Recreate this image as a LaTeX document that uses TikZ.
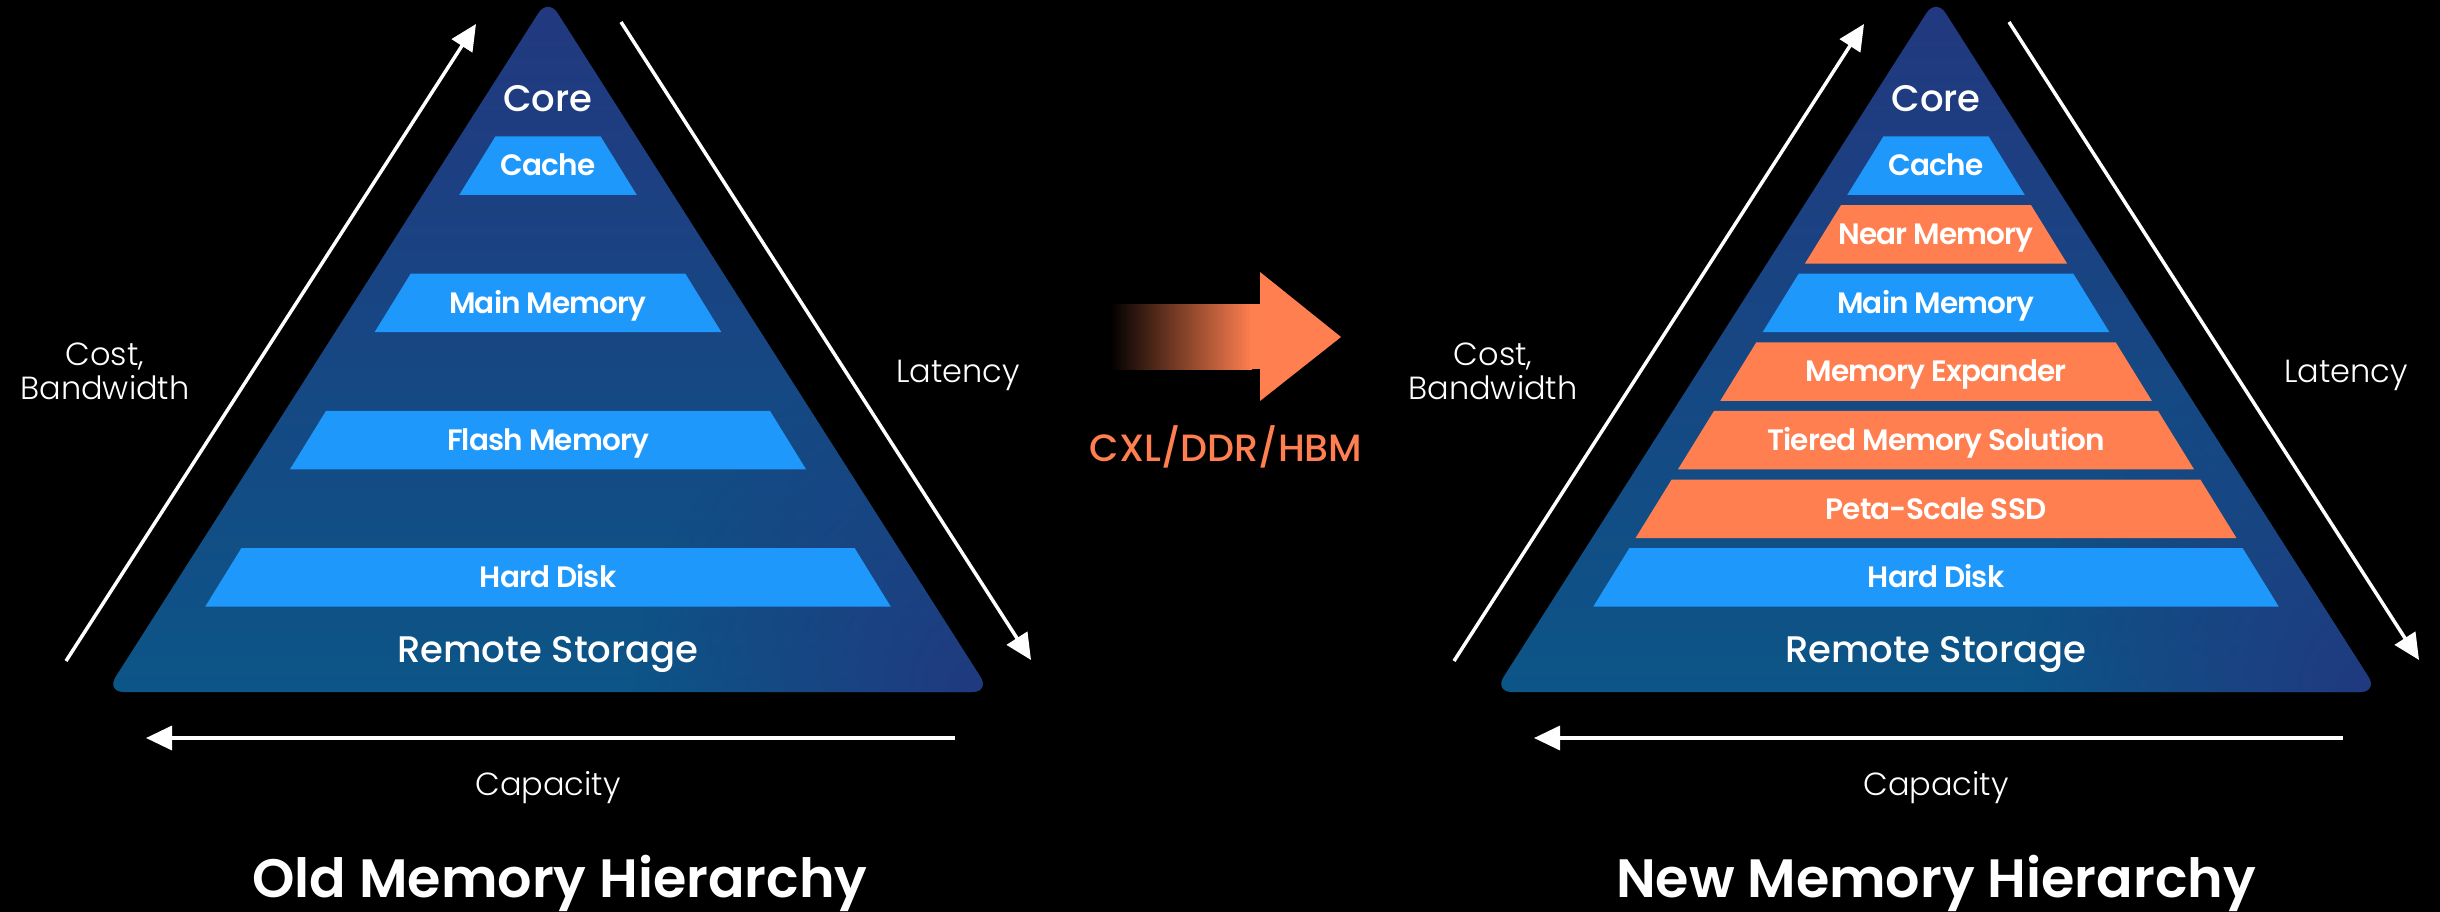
\documentclass[tikz,border=0pt]{standalone}
\usepackage{fontspec}
\setmainfont{Poppins}
\newfontfamily\popL{Poppins Light}
\newfontfamily\popM{Poppins Medium}
\newfontfamily\popSB{Poppins SemiBold}[LetterSpace=-3]
\newfontfamily\popT{Poppins SemiBold}
\usetikzlibrary{arrows.meta,fadings}
\definecolor{navy}{HTML}{22387F}
\definecolor{tealb}{HTML}{0C5587}
\definecolor{midb}{HTML}{104D83}
\definecolor{bandblue}{HTML}{1E98FA}
\definecolor{coralb}{HTML}{FF7F50}
\tikzfading[name=radfade, inner color=transparent!0, outer color=transparent!100]

\newcommand\mkband[5]{%
  \pgfmathsetmacro\bandtop{136.5+68.6*#2}%
  \pgfmathsetmacro\bandbot{\bandtop+58.5}%
  \pgfmathsetmacro\bandht{53+0.617*(\bandtop-137)}%
  \pgfmathsetmacro\bandhb{53+0.617*(\bandbot-137)}%
  \pgfmathsetmacro\bandmid{\bandtop+29.25}%
  \fill[#3] ({#1-\bandht},\bandtop) -- ({#1+\bandht},\bandtop) -- ({#1+\bandhb},\bandbot) -- ({#1-\bandhb},\bandbot) -- cycle;
  \node[bandtext] (#5) at (#1,\bandmid) {#4};
}

\newcommand\pyr[2]{%
  \begin{scope}[xshift=#1pt]
    \path[rounded corners=18pt, top color=navy, middle color=midb, bottom color=tealb]
      (548,-2) -- (990,692) -- (106,692) -- cycle;
    \begin{scope}
      \clip[rounded corners=18pt] (548,-2) -- (990,692) -- (106,692) -- cycle;
      \fill[navy, path fading=radfade] (995,700) circle (360pt);
    \end{scope}
    \node[core] (#2core) at (548,99) {Core};
    \node[core] (#2remote) at (548,649) {Remote Storage};
    \coordinate (#2ua) at (66,661);
    \coordinate (#2ub) at (476,24);
    \coordinate (#2ra) at (621,22);
    \coordinate (#2rb) at (1031,660);
    \coordinate (#2ba) at (955,738);
    \coordinate (#2bb) at (146,738);
    \draw[axisarrow] (#2ua) -- (#2ub);
    \draw[axisarrow] (#2ra) -- (#2rb);
    \draw[axisarrow] (#2ba) -- (#2bb);
    \node[side] (#2cost) at (105,371) {Cost,\\Bandwidth};
    \node[side] (#2lat) at (958,375) {Latency};
    \node[side] (#2cap) at (548,788) {Capacity};
  \end{scope}
}

\begin{document}
\begin{tikzpicture}[x=1pt,y=-1pt,
  core/.style={text=white, inner sep=0pt, text height=26pt, text depth=0pt, font=\popM\fontsize{37}{40}\selectfont},
  bandtext/.style={text=white, inner sep=0pt, text height=20.5pt, text depth=0pt, font=\popSB\fontsize{29.5}{32}\selectfont},
  side/.style={text=white, inner sep=0pt, align=center, font=\popL\fontsize{32}{34}\selectfont},
  titletext/.style={text=white, inner sep=0pt, text height=38pt, text depth=0pt, font=\popT\fontsize{54}{60}\selectfont},
  axisarrow/.style={white, line width=3.5pt, -{Triangle[length=26pt,width=24pt]}}
]
\fill[black] (0,0) rectangle (2440,912);
\useasboundingbox (0,0) rectangle (2440,912);

\pyr{0}{L}
\pyr{1388}{R}

\mkband{548}{0}{bandblue}{Cache}{Lcache}
\mkband{548}{2}{bandblue}{Main Memory}{Lmain}
\mkband{548}{4}{bandblue}{Flash Memory}{Lflash}
\mkband{548}{6}{bandblue}{Hard Disk}{Lhard}

\mkband{1936}{0}{bandblue}{Cache}{Rcache}
\mkband{1936}{1}{coralb}{Near Memory}{Rnear}
\mkband{1936}{2}{bandblue}{Main Memory}{Rmain}
\mkband{1936}{3}{coralb}{Memory Expander}{Rexp}
\mkband{1936}{4}{coralb}{Tiered Memory Solution}{Rtier}
\mkband{1936}{5}{coralb}{Peta-Scale SSD}{Rpeta}
\mkband{1936}{6}{bandblue}{Hard Disk}{Rhard}

% transition arrow
\shade[left color=black, right color=coralb] (1110,304) rectangle (1252,369);
\fill[coralb] (1250,304) rectangle (1262,369);
\fill[coralb] (1260,272) -- (1341,337) -- (1260,401) -- cycle;
\node[inner sep=0pt, text height=27pt, text depth=0pt, text=coralb, font=\popM\fontsize{38}{40}\selectfont] (cxl) at (1226,448) {CXL/DDR/HBM};

\node[titletext] (oldt) at (560,878) {Old Memory Hierarchy};
\node[titletext] (newt) at (1936,878) {New Memory Hierarchy};
\end{tikzpicture}
\end{document}
